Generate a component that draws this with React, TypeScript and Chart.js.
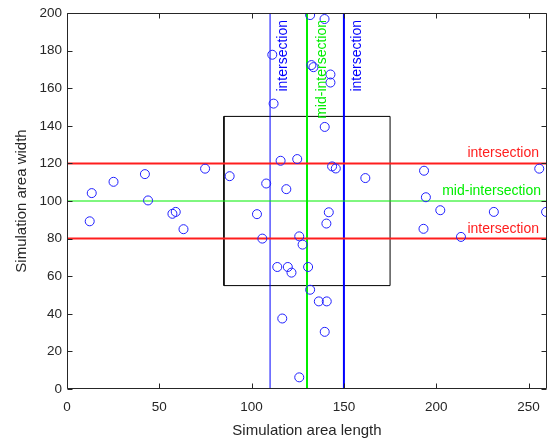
import React, { useEffect, useRef } from 'react';
import { Chart, registerables } from 'chart.js';

Chart.register(...registerables);

// Node positions (length, width)
const nodeX = [131.7, 139.5, 111.2, 132.4, 133.5, 142.7, 142.7, 111.9, 139.6, 115.7, 124.7, 143.6, 145.6, 88.1, 107.9, 118.8, 102.9, 141.8, 140.5, 105.8, 125.8, 127.6, 113.9, 119.6, 121.6, 130.6, 131.7, 136.4, 140.7, 116.6, 139.6, 125.8, 74.8, 42.2, 25.2, 13.4, 43.9, 12.3, 57.1, 58.9, 63.1, 161.6, 193.4, 255.8, 194.4, 202.2, 231.2, 259.5, 193.1, 213.4];
const nodeY = [198.9, 196.8, 177.8, 172.3, 171.2, 167.3, 163.0, 151.8, 139.4, 121.4, 122.3, 118.4, 117.3, 113.2, 109.3, 106.3, 93.0, 94.0, 88.0, 80.0, 81.2, 76.8, 64.9, 64.9, 61.9, 64.9, 52.8, 46.6, 46.6, 37.5, 30.4, 6.2, 117.2, 114.3, 110.2, 104.2, 100.3, 89.2, 93.2, 94.2, 85.0, 112.2, 116.1, 117.2, 102.0, 95.1, 94.2, 94.2, 85.2, 80.9];

const intersectionX = [110, 150];
const midIntersectionX = 130;
const intersectionY = [80, 120];
const midIntersectionY = 100;
const boxX = [85, 175];
const boxY = [55, 145];

const xTicks = [0, 50, 100, 150, 200, 250];
const yTicks = [0, 20, 40, 60, 80, 100, 120, 140, 160, 180, 200];
const xRange = [0, 260];
const yRange = [0, 200];

const xTitle = 'Simulation area length';
const yTitle = 'Simulation area width';
const intersectionLabel = 'intersection';
const midIntersectionLabel = 'mid-intersection';

const FONT = "'Liberation Sans', Arial, sans-serif";
const AXIS_COLOR = '#262626';
const RED = 'rgb(255,30,30)';
const GREEN = '#00ee00';
const BLUE = '#0000ff';

const framePlugin = {
  id: 'frameAndLabels',
  afterDatasetsDraw(chart: any) {
    const { ctx, chartArea: a, scales } = chart;
    const xs = scales.x;
    const ys = scales.y;
    ctx.save();
    ctx.font = `14px ${FONT}`;
    const vert = (val: number, off: number, text: string, color: string) => {
      ctx.save();
      ctx.translate(xs.getPixelForValue(val) + off, a.top + 7);
      ctx.rotate(-Math.PI / 2);
      ctx.fillStyle = color;
      ctx.textAlign = 'right';
      ctx.textBaseline = 'middle';
      ctx.fillText(text, 0, 0);
      ctx.restore();
    };
    vert(intersectionX[0], 13.5, intersectionLabel, BLUE);
    vert(midIntersectionX, 15.5, midIntersectionLabel, GREEN);
    vert(intersectionX[1], 13.5, intersectionLabel, BLUE);
    const horiz = (val: number, text: string, color: string, right: number) => {
      ctx.fillStyle = color;
      ctx.textAlign = 'right';
      ctx.textBaseline = 'alphabetic';
      ctx.fillText(text, right, ys.getPixelForValue(val) - 6);
    };
    horiz(intersectionY[1], intersectionLabel, RED, a.right - 8);
    horiz(midIntersectionY, midIntersectionLabel, GREEN, a.right - 6);
    horiz(intersectionY[0], intersectionLabel, RED, a.right - 8);
    ctx.restore();
  },
  afterDraw(chart: any) {
    const { ctx, chartArea: a, scales } = chart;
    const xs = scales.x;
    const ys = scales.y;
    ctx.save();
    ctx.strokeStyle = AXIS_COLOR;
    ctx.lineWidth = 1;
    const L = Math.round(a.left) + 0.5;
    const R = Math.round(a.right) - 0.5;
    const T = Math.round(a.top) + 0.5;
    const B = Math.round(a.bottom) - 0.5;
    ctx.beginPath();
    ctx.rect(L, T, R - L, B - T);
    const tl = 5;
    xTicks.forEach((v) => {
      const px = Math.round(xs.getPixelForValue(v)) + 0.5;
      ctx.moveTo(px, B);
      ctx.lineTo(px, B - tl);
      ctx.moveTo(px, T);
      ctx.lineTo(px, T + tl);
    });
    yTicks.forEach((v) => {
      const py = Math.round(ys.getPixelForValue(v)) + 0.5;
      ctx.moveTo(L, py);
      ctx.lineTo(L + tl, py);
      ctx.moveTo(R, py);
      ctx.lineTo(R - tl, py);
    });
    ctx.stroke();
    ctx.restore();
  },
};

function seg(x0: number, y0: number, x1: number, y1: number) {
  return [{ x: x0, y: y0 }, { x: x1, y: y1 }];
}

const zeroPad = (s: any) => {
  s.paddingLeft = 0;
  s.paddingRight = 0;
  s.paddingTop = 0;
  s.paddingBottom = 0;
};

export default function App() {
  const ref = useRef<HTMLCanvasElement | null>(null);
  useEffect(() => {
    if (!ref.current) return;
    const lineDs = (data: any[], color: string, width: number) => ({
      type: 'scatter' as const,
      data,
      showLine: true,
      borderColor: color,
      backgroundColor: color,
      borderWidth: width,
      pointRadius: 0,
      pointHoverRadius: 0,
      order: 1,
    });
    const chart = new Chart(ref.current, {
      type: 'scatter',
      data: {
        datasets: [
          {
            data: nodeX.map((x, i) => ({ x, y: nodeY[i] })),
            pointStyle: 'circle',
            pointRadius: 4.5,
            pointBorderWidth: 1,
            borderColor: '#2020ff',
            backgroundColor: 'rgba(0,0,0,0)',
            order: 0,
          } as any,
          lineDs(seg(xRange[0], midIntersectionY, xRange[1], midIntersectionY), GREEN, 1),
          lineDs(seg(xRange[0], intersectionY[0], xRange[1], intersectionY[0]), RED, 2),
          lineDs(seg(xRange[0], intersectionY[1], xRange[1], intersectionY[1]), RED, 2),
          lineDs(seg(intersectionX[0], yRange[0], intersectionX[0], yRange[1]), BLUE, 1),
          lineDs(seg(intersectionX[1], yRange[0], intersectionX[1], yRange[1]), BLUE, 2),
          lineDs(seg(midIntersectionX, yRange[0], midIntersectionX, yRange[1]), GREEN, 2),
          lineDs(
            [
              { x: boxX[0], y: boxY[0] },
              { x: boxX[1], y: boxY[0] },
              { x: boxX[1], y: boxY[1] },
              { x: boxX[0], y: boxY[1] },
              { x: boxX[0], y: boxY[0] },
            ],
            '#000000',
            1
          ),
        ],
      },
      options: {
        responsive: false,
        animation: false,
        devicePixelRatio: 1,
        events: [],
        layout: { autoPadding: false, padding: { top: 13, right: 2, left: 0, bottom: 0 } },
        plugins: { legend: { display: false }, tooltip: { enabled: false } },
        scales: {
          x: {
            type: 'linear',
            min: xRange[0],
            max: xRange[1],
            afterFit: (s: any) => {
              s.height = 52;
              zeroPad(s);
            },
            afterBuildTicks: (s: any) => {
              s.ticks = xTicks.map((v) => ({ value: v }));
            },
            grid: { display: false, drawTicks: false },
            border: { display: false },
            ticks: {
              padding: 10,
              color: AXIS_COLOR,
              font: { family: FONT, size: 13.5 },
              maxRotation: 0,
            },
            title: {
              display: true,
              text: xTitle,
              color: AXIS_COLOR,
              font: { family: FONT, size: 15 },
              padding: { top: 0, bottom: 1 },
            },
          },
          y: {
            type: 'linear',
            min: yRange[0],
            max: yRange[1],
            afterFit: (s: any) => {
              s.width = 67;
              zeroPad(s);
            },
            afterBuildTicks: (s: any) => {
              s.ticks = yTicks.map((v) => ({ value: v }));
            },
            grid: { display: false, drawTicks: false },
            border: { display: false },
            ticks: {
              padding: 5,
              color: AXIS_COLOR,
              font: { family: FONT, size: 13.5 },
            },
            title: {
              display: true,
              text: yTitle,
              color: AXIS_COLOR,
              font: { family: FONT, size: 15 },
              padding: { top: 13, bottom: 0 },
            },
          },
        },
      } as any,
      plugins: [framePlugin],
    });
    return () => chart.destroy();
  }, []);
  return (
    <div style={{ position: 'fixed', left: 0, top: 0, width: 549, height: 441, background: '#fff' }}>
      <canvas ref={ref} width={549} height={441} style={{ width: 549, height: 441, display: 'block' }} />
    </div>
  );
}
